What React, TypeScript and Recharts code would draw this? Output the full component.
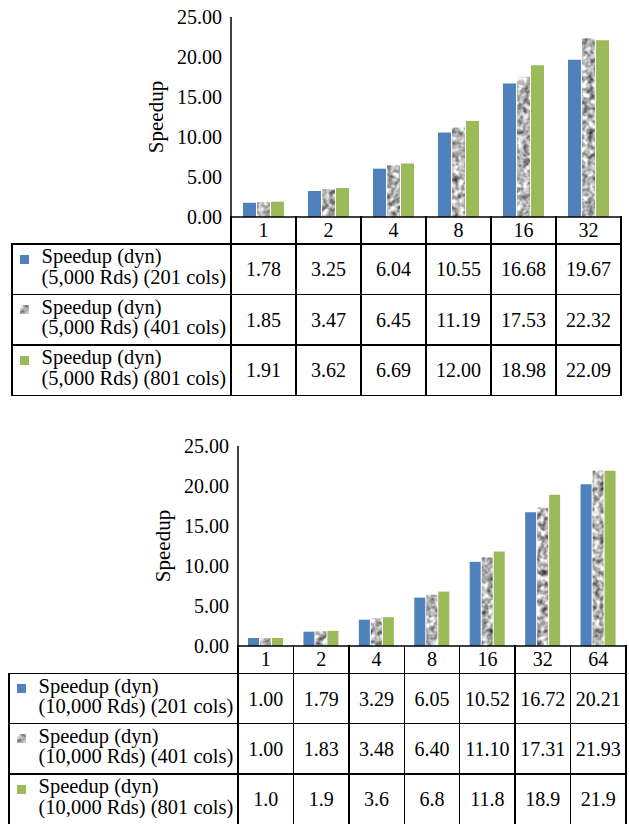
import React from 'react';
import { BarChart, Bar, XAxis, YAxis } from 'recharts';

// Thread counts on the category axis
const threadsA = ['1', '2', '4', '8', '16', '32'];
const threadsB = ['1', '2', '4', '8', '16', '32', '64'];

// Speedup, 5,000 reads
const speedup5k201 = [1.78, 3.25, 6.04, 10.55, 16.68, 19.67];
const speedup5k401 = [1.85, 3.47, 6.45, 11.19, 17.53, 22.32];
const speedup5k801 = [1.91, 3.62, 6.69, 12.0, 18.98, 22.09];

// Speedup, 10,000 reads
const speedup10k201 = [1.0, 1.79, 3.29, 6.05, 10.52, 16.72, 20.21];
const speedup10k401 = [1.0, 1.83, 3.48, 6.4, 11.1, 17.31, 21.93];
const speedup10k801 = [1.0, 1.9, 3.6, 6.8, 11.8, 18.9, 21.9];

// Row captions of the data tables
const namesA = [
  ['Speedup (dyn)', '(5,000 Rds) (201 cols)'],
  ['Speedup (dyn)', '(5,000 Rds) (401 cols)'],
  ['Speedup (dyn)', '(5,000 Rds) (801 cols)'],
];
const namesB = [
  ['Speedup (dyn)', '(10,000 Rds) (201 cols)'],
  ['Speedup (dyn)', '(10,000 Rds) (401 cols)'],
  ['Speedup (dyn)', '(10,000 Rds) (801 cols)'],
];
const decimalsA = [2, 2, 2];
const decimalsB = [2, 2, 1];

const yTicks = [0, 5, 10, 15, 20, 25];
const yAxisTitle = 'Speedup';

const FONT = '"Liberation Serif", "Times New Roman", serif';
const BLUE = '#4F81BD';
const GREEN = '#9BBB59';
const LINE = 1.4;
const W = 629;

type PanelCfg = {
  top: number;
  categories: string[];
  values: number[][];
  names: string[][];
  decimals: number[];
  yAxisWidth: number;
  rightMargin: number;
  tableLeft: number;
  rowLines: number[];
  gap: number;
  labelX: number;
  filterId: string;
};

function HLine({ x1, x2, y }: { x1: number; x2: number; y: number }) {
  return (
    <div
      style={{ position: 'absolute', left: x1 - LINE / 2, top: y - LINE / 2, width: x2 - x1 + LINE, height: LINE, background: '#000' }}
    />
  );
}

function VLine({ x, y1, y2 }: { x: number; y1: number; y2: number }) {
  return (
    <div
      style={{ position: 'absolute', left: x - LINE / 2, top: y1 - LINE / 2, width: LINE, height: y2 - y1 + LINE, background: '#000' }}
    />
  );
}

// Soft grey mottled texture used for the middle series
function MottleFilter({ id }: { id: string }) {
  return (
    <filter
      id={id}
      filterUnits="objectBoundingBox"
      x="0"
      y="0"
      width="1"
      height="1"
      colorInterpolationFilters="sRGB"
    >
      <feTurbulence type="fractalNoise" baseFrequency="0.17" numOctaves={2} seed={4} result="noise" />
      <feColorMatrix
        in="noise"
        type="matrix"
        values="1.3 0 0 0 0.05  1.3 0 0 0 0.05  1.3 0 0 0 0.05  0 0 0 0 1"
        result="grey"
      />
      <feGaussianBlur in="grey" stdDeviation="0.6" result="soft" />
      <feComposite in="soft" in2="SourceAlpha" operator="in" />
    </filter>
  );
}

function Panel({ cfg }: { cfg: PanelCfg }) {
  const { top, categories, values, names, decimals, yAxisWidth, rightMargin, tableLeft, rowLines, gap, labelX, filterId } = cfg;
  const plotTop = 17;
  const plotH = 200;
  const xH = 27;
  const chartH = plotTop + plotH + xH;
  const plotLeft = yAxisWidth;
  const plotRight = W - rightMargin;
  const band = (plotRight - plotLeft) / categories.length;
  const zeroY = top + plotTop + plotH;
  const bottomY = rowLines[rowLines.length - 1];

  const data = categories.map((c, i) => ({ cat: c, s0: values[0][i], s1: values[1][i], s2: values[2][i] }));

  const mottledShape = (p: any) => {
    if (!p || p.height == null || p.height <= 0) return <g />;
    return <rect x={p.x} y={p.y} width={p.width} height={p.height} fill="#b0b0b0" filter={`url(#${filterId})`} />;
  };

  const titleY = plotTop + plotH / 2;
  const renderTitle = () => (
    <text
      x={labelX}
      y={titleY}
      transform={`rotate(-90 ${labelX} ${titleY})`}
      textAnchor="middle"
      dominantBaseline="central"
      fontFamily={FONT}
      fontSize={21}
      fill="#000"
    >
      {yAxisTitle}
    </text>
  );

  const colEdges = categories.map((_, k) => plotLeft + k * band).concat([plotRight]);

  return (
    <>
      <div style={{ position: 'absolute', left: 0, top, width: W, height: chartH }}>
        <BarChart
          width={W}
          height={chartH}
          data={data}
          margin={{ top: plotTop, right: rightMargin, bottom: 0, left: 0 }}
          barCategoryGap={gap}
          barGap={1}
        >
          <defs>
            <MottleFilter id={filterId} />
          </defs>
          <XAxis
            dataKey="cat"
            height={xH}
            interval={0}
            axisLine={{ stroke: '#000', strokeWidth: 1.5 }}
            tickLine={false}
            tickSize={0}
            tickMargin={6}
            tick={{ fontFamily: FONT, fontSize: 20, fill: '#000' }}
          />
          <YAxis
            width={yAxisWidth}
            domain={[0, 25]}
            ticks={yTicks}
            interval={0}
            tickFormatter={(v: number) => v.toFixed(2)}
            axisLine={{ stroke: '#000', strokeWidth: 1.5 }}
            tickLine={false}
            tickSize={0}
            tickMargin={9}
            tick={{ fontFamily: FONT, fontSize: 20, fill: '#000' }}
            label={renderTitle}
          />
          <Bar dataKey="s0" fill={BLUE} isAnimationActive={false} />
          <Bar dataKey="s1" fill="#b0b0b0" shape={mottledShape} isAnimationActive={false} />
          <Bar dataKey="s2" fill={GREEN} isAnimationActive={false} />
        </BarChart>
      </div>

      {/* table grid */}
      {rowLines.map((y, i) => (
        <HLine key={`h${i}`} x1={tableLeft} x2={plotRight} y={y} />
      ))}
      <VLine x={tableLeft} y1={rowLines[0]} y2={bottomY} />
      {colEdges.map((x, i) => (
        <VLine key={`v${i}`} x={x} y1={zeroY} y2={bottomY} />
      ))}

      {/* row captions with series swatches */}
      {names.map((lines, r) => {
        const rowTop = rowLines[r];
        return (
          <React.Fragment key={`n${r}`}>
            {r === 1 ? (
              <svg style={{ position: 'absolute', left: tableLeft + 8, top: rowTop + 10.5 }} width={9} height={9}>
                <rect x={0} y={0} width={9} height={9} fill="#a0a0a0" filter={`url(#${filterId})`} />
              </svg>
            ) : (
              <div
                style={{
                  position: 'absolute',
                  left: tableLeft + 8,
                  top: rowTop + 10.5,
                  width: 9,
                  height: 9,
                  background: r === 0 ? BLUE : GREEN,
                }}
              />
            )}
            <div
              style={{
                position: 'absolute',
                left: tableLeft + 29.5,
                top: rowTop + 2.3,
                fontFamily: FONT,
                fontSize: 20.5,
                lineHeight: '20.5px',
                whiteSpace: 'nowrap',
                color: '#000',
              }}
            >
              {lines.map((t, j) => (
                <div key={j}>{t}</div>
              ))}
            </div>
          </React.Fragment>
        );
      })}

      {/* value cells */}
      {values.map((row, r) =>
        row.map((v, k) => (
          <div
            key={`c${r}-${k}`}
            style={{
              position: 'absolute',
              left: plotLeft + k * band,
              top: rowLines[r],
              width: band,
              height: rowLines[r + 1] - rowLines[r],
              display: 'flex',
              alignItems: 'center',
              justifyContent: 'center',
              fontFamily: FONT,
              fontSize: 20,
              lineHeight: '20px',
              color: '#000',
            }}
          >
            {v.toFixed(decimals[r])}
          </div>
        ))
      )}
    </>
  );
}

const panelA: PanelCfg = {
  top: 0,
  categories: threadsA,
  values: [speedup5k201, speedup5k401, speedup5k801],
  names: namesA,
  decimals: decimalsA,
  yAxisWidth: 231,
  rightMargin: 8,
  tableLeft: 12,
  rowLines: [244, 294.5, 345, 395.5],
  gap: 12,
  labelX: 156,
  filterId: 'mottleA',
};

const panelB: PanelCfg = {
  top: 429,
  categories: threadsB,
  values: [speedup10k201, speedup10k401, speedup10k801],
  names: namesB,
  decimals: decimalsB,
  yAxisWidth: 238,
  rightMargin: 3,
  tableLeft: 9,
  rowLines: [673.5, 723.5, 774, 824.5],
  gap: 10,
  labelX: 163,
  filterId: 'mottleB',
};

export default function App() {
  return (
    <div
      style={{
        position: 'absolute',
        left: 0,
        top: 0,
        width: W,
        height: 824,
        overflow: 'hidden',
        background: '#fff',
      }}
    >
      <Panel cfg={panelA} />
      <Panel cfg={panelB} />
    </div>
  );
}
